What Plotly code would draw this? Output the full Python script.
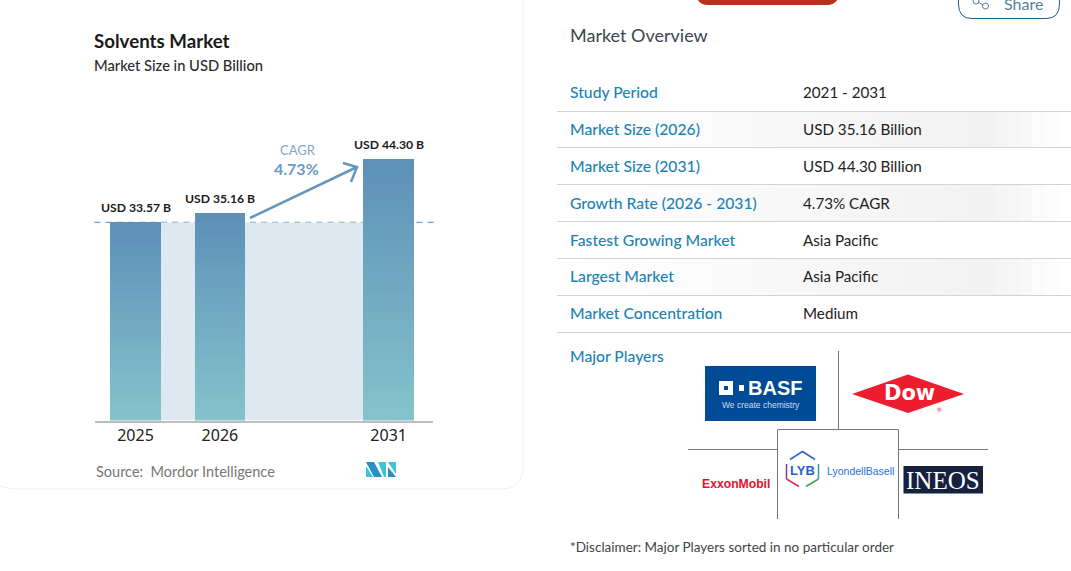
import plotly.graph_objects as go

W, H = 1071, 571

years = ["2025", "2026", "2031"]
axis_slots = ["2025", "2026", " ", "2031"]
market_size = [33.57, 35.16, 44.30]
bar_labels = ["USD 33.57 B", "USD 35.16 B", "USD 44.30 B"]
cagr_text = "4.73%"

row_labels = ["Study Period", "Market Size (2026)", "Market Size (2031)", "Growth Rate (2026 - 2031)",
              "Fastest Growing Market", "Largest Market", "Market Concentration"]
row_values = ["2021 - 2031", "USD 35.16 Billion", "USD 44.30 Billion", "4.73% CAGR",
              "Asia Pacific", "Asia Pacific", "Medium"]
row_text_y = [92, 128.6, 165.6, 202.6, 239.6, 275.6, 312.6]
row_line_y = [111.5, 147.5, 184.5, 221.5, 258.5, 295.5, 332.5]

FONT = "Lato"
BLUE_LABEL = "#1B83B5"


def px(x):
    return x / W


def py(y):
    return 1 - y / H


def path(points, close=False):
    # pixel points to an svg path in paper coordinates
    d = "M" + " L".join(f"{px(x):.5f},{py(y):.5f}" for x, y in points)
    return d + (" Z" if close else "")


def mix(a, b, t):
    return "#%02x%02x%02x" % tuple(round(a[i] + (b[i] - a[i]) * t) for i in range(3))


fig = go.Figure()

# bars are stacked thin slices so each one gets its own vertical gradient
n_slices = 60
for k in range(n_slices):
    fig.add_trace(go.Bar(
        x=years,
        y=[v / n_slices for v in market_size],
        marker=dict(color=mix((0x85, 0xC3, 0xCB), (0x5E, 0x90, 0xB8), k / (n_slices - 1)), line_width=0),
        hoverinfo="skip",
        showlegend=False,
    ))

shapes = []


def add_path(points, close=False, fill=None, color=None, width=0, layer="above"):
    shapes.append(dict(type="path", xref="paper", yref="paper", path=path(points, close),
                       fillcolor=fill if fill else "rgba(0,0,0,0)",
                       line=dict(color=color if color else "rgba(0,0,0,0)", width=width), layer=layer))


# band between the bars, up to the 2025 level, and the dashed level line
shapes.append(dict(type="rect", xref="x", yref="y", x0=0, x1=3, y0=0, y1=market_size[0],
                   fillcolor="#DEE8F0", line_width=0, layer="below"))
shapes.append(dict(type="line", xref="x domain", yref="y", x0=0, x1=1.003, y0=market_size[0], y1=market_size[0],
                   line=dict(color="#6FA3C7", width=1.2, dash="6px,5.1px"), layer="below"))

# card outline
r = 22
shapes.append(dict(type="path", xref="paper", yref="paper", layer="below",
                   path=f"M{px(523):.5f},{py(-5):.5f} L{px(523):.5f},{py(489 - r):.5f} "
                        f"Q{px(523):.5f},{py(489):.5f} {px(523 - r):.5f},{py(489):.5f} "
                        f"L{px(r):.5f},{py(489):.5f} Q{px(0):.5f},{py(489):.5f} {px(-4):.5f},{py(483):.5f}",
                   line=dict(color="#F0F0F0", width=1)))

# cagr arrow
add_path([(250, 218), (357, 167)], color="#6497BF", width=2.5)
add_path([(343, 163), (357, 167), (351, 182)], color="#6497BF", width=2.5)

# top of the page: red button and share button
shapes.append(dict(type="path", xref="paper", yref="paper",
                   path=f"M{px(696):.5f},{py(-5):.5f} Q{px(698):.5f},{py(5):.5f} {px(708):.5f},{py(5):.5f} "
                        f"L{px(827):.5f},{py(5):.5f} Q{px(837):.5f},{py(5):.5f} {px(839):.5f},{py(-5):.5f} Z",
                   fillcolor="#B5321C", line_width=0))
shapes.append(dict(type="path", xref="paper", yref="paper",
                   path=f"M{px(958.5):.5f},{py(-5):.5f} L{px(958.5):.5f},{py(4):.5f} "
                        f"Q{px(958.5):.5f},{py(18.5):.5f} {px(972):.5f},{py(18.5):.5f} "
                        f"L{px(1046):.5f},{py(18.5):.5f} Q{px(1059.5):.5f},{py(18.5):.5f} {px(1059.5):.5f},{py(4):.5f} "
                        f"L{px(1059.5):.5f},{py(-5):.5f}",
                   line=dict(color="#1F5F8B", width=1)))
add_path([(976, 1), (985, 6)], color="#5A7F99", width=1)
shapes.append(dict(type="circle", xref="paper", yref="paper", x0=px(982.5), x1=px(988.5), y0=py(9), y1=py(3),
                   fillcolor="white", line=dict(color="#5A7F99", width=1)))
shapes.append(dict(type="circle", xref="paper", yref="paper", x0=px(973), x1=px(979), y0=py(4), y1=py(-2),
                   fillcolor="white", line=dict(color="#5A7F99", width=1)))

# table rows: faint gradient on every other row, then the separators
strips = 40
x_left, x_right = 557, 1071
for i in [1, 3, 5]:
    for s in range(strips):
        t = s / (strips - 1)
        peak = 0.85
        amt = t / peak if t < peak else (1 - t) / (1 - peak)
        x0 = x_left + (x_right - x_left) * s / strips
        x1 = x_left + (x_right - x_left) * (s + 1) / strips
        add_path([(x0, row_line_y[i - 1]), (x1 + 0.5, row_line_y[i - 1]), (x1 + 0.5, row_line_y[i]), (x0, row_line_y[i])],
                 True, fill=mix((255, 255, 255), (0xF2, 0xF2, 0xF2), amt), layer="below")
for y in row_line_y:
    add_path([(x_left, y), (x_right, y)], color="#D3D3D3", width=1)

# frame around the logos
FRAME = "#777777"
add_path([(838.5, 351), (838.5, 429)], color=FRAME, width=1)
add_path([(688, 449.5), (777, 449.5)], color=FRAME, width=1)
add_path([(899, 449.5), (988, 449.5)], color=FRAME, width=1)
add_path([(777.5, 519), (777.5, 429.5), (898.5, 429.5), (898.5, 519)], color=FRAME, width=1)

# basf
BASF_BLUE = "#004A96"
add_path([(705, 366), (816, 366), (816, 421), (705, 421)], True, fill=BASF_BLUE)
add_path([(719, 381), (733, 381), (733, 395), (719, 395)], True, fill="white")
add_path([(724, 386), (728, 386), (728, 390), (724, 390)], True, fill=BASF_BLUE)
add_path([(739, 385), (744, 385), (744, 391), (739, 391)], True, fill="white")

# dow
add_path([(852, 394), (908, 374.5), (964, 394), (908, 413)], True, fill="#ED1C2E")

# ineos
add_path([(903.5, 466), (983, 466), (983, 493.5), (903.5, 493.5)], True, fill="#16213F")

# lyondellbasell hexagon
add_path([(790, 459.5), (802.5, 451.5), (815, 459.5)], color="#2B63D9", width=1.5)
add_path([(786.5, 464), (786.5, 479)], color="#7A3FA0", width=1.5)
add_path([(786.5, 479), (799, 486.5)], color="#E0266B", width=1.5)
add_path([(806, 486.5), (818.5, 479)], color="#3CA83C", width=1.5)
add_path([(818.5, 479), (818.5, 464)], color="#2E9E9E", width=1.5)

# mordor logo
add_path([(366, 462), (374, 462), (382, 477), (374, 477)], True, fill="#2A8FC4")
add_path([(366, 466), (373, 477), (366, 477)], True, fill="#3CC5D2")
add_path([(378, 462), (386, 462), (386, 477), (384, 477)], True, fill="#3CC5D2")
add_path([(388, 467), (396, 477), (388, 477)], True, fill="#2A8FC4")
add_path([(388, 462), (396, 462), (396, 474)], True, fill="#3CC5D2")

annotations = []


def add_text(x, y, text, size, color, weight=400, anchor="left", family=FONT):
    # annotations keep a small padding, pull left aligned ones back by it
    x = x - 2 if anchor == "left" else x
    annotations.append(dict(xref="paper", yref="paper", x=px(x), y=py(y), text=text, showarrow=False,
                            xanchor=anchor, yanchor="middle", align=anchor,
                            font=dict(family=family, size=size, color=color, weight=weight)))


# value labels sit on the bars through the axes, a year string would be read as a slot number
for year, value, label in zip(years, market_size, bar_labels):
    annotations.append(dict(xref="x", yref="y", x=axis_slots.index(year), y=value, text=label, showarrow=False,
                            xanchor="center", yanchor="bottom", yshift=5,
                            font=dict(family=FONT, size=12.2, color="#1c1c1c", weight=700)))

add_text(94, 41, "Solvents Market", 18.7, "#1a1a1a", 700)
add_text(94, 65, "Market Size in USD Billion", 14.7, "#2b2b2b", 500)
add_text(298, 150, "CAGR", 13, "#7FA8C8", anchor="center")
add_text(296, 168, cagr_text, 16, "#6A9BC3", 700, anchor="center")
add_text(96, 471, "Source:  Mordor Intelligence", 14.5, "#777777")

add_text(1023, 3, "Share", 16, "#5A7F99", anchor="center")
add_text(570, 35.5, "Market Overview", 18, "#3A4750")
for label, value, y in zip(row_labels, row_values, row_text_y):
    add_text(569.5, y, label, 15.7, BLUE_LABEL, 500)
    add_text(803, y, value, 15.2, "#222222")
add_text(569.5, 355.5, "Major Players", 15.7, BLUE_LABEL, 500)
add_text(570, 547, "*Disclaimer: Major Players sorted in no particular order", 13.5, "#444444")

add_text(775, 388, "BASF", 20, "white", 900, anchor="center", family="Liberation Sans")
add_text(760.5, 404.5, "We create chemistry", 8.5, "#CFDDEE", anchor="center", family="Liberation Sans")
add_text(909, 392.5, "Dow", 21, "white", 700, anchor="center", family="DejaVu Sans")
add_text(939, 409, "®", 6, "#ED1C2E", anchor="center")
add_text(736, 484, "ExxonMobil", 12.2, "#E8112D", 700, anchor="center", family="Liberation Sans")
add_text(802.5, 470.5, "LYB", 13, "#1F5FD8", 700, anchor="center", family="Liberation Sans")
add_text(860, 471, "LyondellBasell", 10.5, "#2B6FD8", anchor="center", family="Liberation Sans")
add_text(943, 480, "INEOS", 25, "white", anchor="center", family="Liberation Serif")

fig.update_layout(
    width=W, height=H,
    margin=dict(l=0, r=0, t=0, b=0),
    autosize=False,
    paper_bgcolor="white",
    plot_bgcolor="rgba(0,0,0,0)",
    barmode="stack",
    bargap=0.4,
    showlegend=False,
    shapes=shapes,
    annotations=annotations,
    xaxis=dict(
        domain=[px(94.5), px(432.5)],
        type="category",
        categoryorder="array",
        categoryarray=axis_slots,
        range=[-0.486, 3.52],
        tickvals=years,
        ticktext=years,
        ticks="",
        ticklabelstandoff=-1,
        showgrid=False,
        zeroline=False,
        showline=True,
        linecolor="#BDBDBD",
        linewidth=2,
        tickfont=dict(family="Noto Sans", size=16, color="#222222"),
    ),
    yaxis=dict(
        domain=[py(420.5), py(110)],
        range=[0, (420.5 - 110) / 5.9],
        visible=False,
    ),
)

fig.write_html("out.html", post_script="document.body.style.margin='0';", config=dict(displayModeBar=False))
